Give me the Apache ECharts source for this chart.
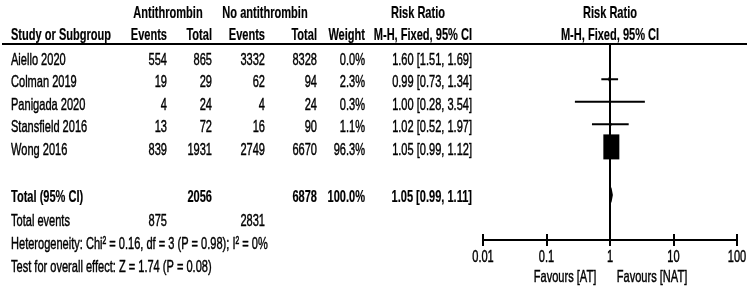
<!DOCTYPE html>
<html>
<head>
<meta charset="utf-8">
<script src="https://cdn.jsdelivr.net/npm/echarts@6/dist/echarts.min.js"></script>
<style>
  html, body { margin: 0; padding: 0; background: #fff; }
  #main { width: 750px; height: 292px; }
</style>
</head>
<body>
<div id="main"></div>
<script>
// study data
var studies = ['Aiello 2020', 'Colman 2019', 'Panigada 2020', 'Stansfield 2016', 'Wong 2016'];
var atEvents = [554, 19, 4, 13, 839];
var atTotal = [865, 29, 24, 72, 1931];
var natEvents = [3332, 62, 4, 16, 2749];
var natTotal = [8328, 94, 24, 90, 6670];
var weights = [0.0, 2.3, 0.3, 1.1, 96.3];
var riskRatio = [1.60, 0.99, 1.00, 1.02, 1.05];
var ciLow = [1.51, 0.73, 0.28, 0.52, 0.99];
var ciHigh = [1.69, 1.34, 3.54, 1.97, 1.12];

// pooled
var pooledTotals = [2056, 6878];
var pooledWeight = 100.0;
var pooledRR = [1.05, 0.99, 1.11]; // estimate, low, high
var totalEvents = [875, 2831];
var heterogeneityText = 'Heterogeneity: Chi\u00b2 = 0.16, df = 3 (P = 0.98); I\u00b2 = 0%';
var overallText = 'Test for overall effect: Z = 1.74 (P = 0.08)';

var axisTicks = [0.01, 0.1, 1, 10, 100];
var axisTickLabels = ['0.01', '0.1', '1', '10', '100'];

var chart = echarts.init(document.getElementById('main'));

// layout
var rowStep = 22.55;
var firstRow = 60;
var FS = 17, SX = 0.65;
var FONT = "'Liberation Sans', Arial, sans-serif";
var col = { study: 11, atEv: 167, atTot: 212, natEv: 265, natTot: 317, weight: 365, rr: 472 };
var gridTop = 44, gridBottom = 240;

function textY(i) { return firstRow + rowStep * i; }
function plotY(i) { return textY(i) - 3.3 - gridTop; }

function txt(s, x, y, align, bold) {
    return {
        type: 'text', x: x, y: y, scaleX: SX, silent: true,
        style: {
            text: String(s), fill: '#000', align: align || 'left', verticalAlign: 'middle',
            font: (bold ? 'bold ' : '') + FS + 'px ' + FONT,
            stroke: '#000', lineWidth: bold ? 0.2 : 0.45
        }
    };
}
function fmtCI(r, l, h) { return r.toFixed(2) + ' [' + l.toFixed(2) + ', ' + h.toFixed(2) + ']'; }

var g = [];
// headers
g.push(txt('Antithrombin', 168, 13.5, 'center', true));
g.push(txt('No antithrombin', 265, 13.5, 'center', true));
g.push(txt('Risk Ratio', 418, 13.5, 'center', true));
g.push(txt('Risk Ratio', 610, 13.5, 'center', true));
g.push(txt('Study or Subgroup', col.study, 35.5, 'left', true));
g.push(txt('Events', col.atEv, 35.5, 'right', true));
g.push(txt('Total', col.atTot, 35.5, 'right', true));
g.push(txt('Events', col.natEv, 35.5, 'right', true));
g.push(txt('Total', col.natTot, 35.5, 'right', true));
g.push(txt('Weight', col.weight, 35.5, 'right', true));
g.push(txt('M-H, Fixed, 95% CI', col.rr, 35.5, 'right', true));
g.push(txt('M-H, Fixed, 95% CI', 610, 35.5, 'center', true));
g.push({ type: 'line', silent: true, shape: { x1: 2, y1: gridTop, x2: 747, y2: gridTop }, style: { stroke: '#000', lineWidth: 2 } });

// study rows
studies.forEach(function (s, i) {
    var y = textY(i);
    g.push(txt(s, col.study, y));
    g.push(txt(atEvents[i], col.atEv, y, 'right'));
    g.push(txt(atTotal[i], col.atTot, y, 'right'));
    g.push(txt(natEvents[i], col.natEv, y, 'right'));
    g.push(txt(natTotal[i], col.natTot, y, 'right'));
    g.push(txt(weights[i].toFixed(1) + '%', col.weight, y, 'right'));
    g.push(txt(fmtCI(riskRatio[i], ciLow[i], ciHigh[i]), col.rr, y, 'right'));
});

// totals
var yTot = 197;
g.push(txt('Total (95% CI)', col.study, yTot, 'left', true));
g.push(txt(pooledTotals[0], col.atTot, yTot, 'right', true));
g.push(txt(pooledTotals[1], col.natTot, yTot, 'right', true));
g.push(txt(pooledWeight.toFixed(1) + '%', col.weight, yTot, 'right', true));
g.push(txt(fmtCI(pooledRR[0], pooledRR[1], pooledRR[2]), col.rr, yTot, 'right', true));
g.push(txt('Total events', col.study, 221));
g.push(txt(totalEvents[0], col.atEv, 221, 'right'));
g.push(txt(totalEvents[1], col.natEv, 221, 'right'));
g.push(txt(heterogeneityText, col.study, 244));
g.push(txt(overallText, col.study, 267));
g.push(txt('Favours [AT]', 565, 277, 'center'));
g.push(txt('Favours [NAT]', 652, 277, 'center'));

var maxW = Math.max.apply(null, weights);
var studyData = [];
studies.forEach(function (s, i) {
    if (weights[i] > 0) studyData.push([riskRatio[i], ciLow[i], ciHigh[i], plotY(i), weights[i]]);
});

var option = {
    animation: false,
    grid: { left: 483, right: 13, top: gridTop, bottom: 292 - gridBottom },
    xAxis: [{
        type: 'log', logBase: 10, min: 0.01, max: 100,
        axisLine: { onZero: false, lineStyle: { color: '#000', width: 2 } },
        axisTick: { length: 6, lineStyle: { color: '#000', width: 2 } },
        axisLabel: { show: false },
        splitLine: { show: false }
    }, {
        type: 'log', logBase: 10, min: 0.01, max: 100, position: 'bottom',
        axisLine: { show: false, onZero: false },
        axisTick: { inside: true, length: 6, lineStyle: { color: '#000', width: 2 } },
        axisLabel: { show: false },
        splitLine: { show: false }
    }],
    yAxis: { type: 'value', min: 0, max: gridBottom - gridTop, inverse: true, show: false },
    series: [{
        type: 'custom',
        data: studyData,
        renderItem: function (params, api) {
            var c = api.coord([api.value(0), api.value(3)]);
            var l = api.coord([api.value(1), api.value(3)]);
            var h = api.coord([api.value(2), api.value(3)]);
            var s = Math.sqrt(api.value(4) / maxW);
            var bw = Math.max(16 * s, 2), bh = Math.max(25 * s, 2);
            return {
                type: 'group', children: [
                    { type: 'line', shape: { x1: l[0], y1: c[1], x2: h[0], y2: c[1] }, style: { stroke: '#000', lineWidth: 2 } },
                    { type: 'rect', shape: { x: c[0] - bw / 2, y: c[1] - bh / 2, width: bw, height: bh }, style: { fill: '#000' } }
                ]
            };
        }
    }, {
        type: 'custom',
        data: [[pooledRR[0], pooledRR[1], pooledRR[2], 195 - gridTop]],
        renderItem: function (params, api) {
            var c = api.coord([api.value(0), api.value(3)]);
            var l = api.coord([api.value(1), api.value(3)]);
            var h = api.coord([api.value(2), api.value(3)]);
            return {
                type: 'polygon',
                shape: { points: [[l[0], c[1]], [c[0], c[1] - 8], [h[0], c[1]], [c[0], c[1] + 8]] },
                style: { fill: '#000' }
            };
        },
        markLine: {
            silent: true, symbol: 'none', label: { show: false },
            lineStyle: { color: '#000', width: 2, type: 'solid' },
            data: [{ xAxis: 1 }]
        }
    }],
    graphic: g
};
chart.setOption(option);

// tick labels placed through the axis scale
var tickLabels = axisTicks.map(function (v, i) {
    var x = chart.convertToPixel({ xAxisIndex: 0 }, v);
    return txt(axisTickLabels[i], x, 257, 'center');
});
chart.setOption({ graphic: g.concat(tickLabels) });
</script>
</body>
</html>
